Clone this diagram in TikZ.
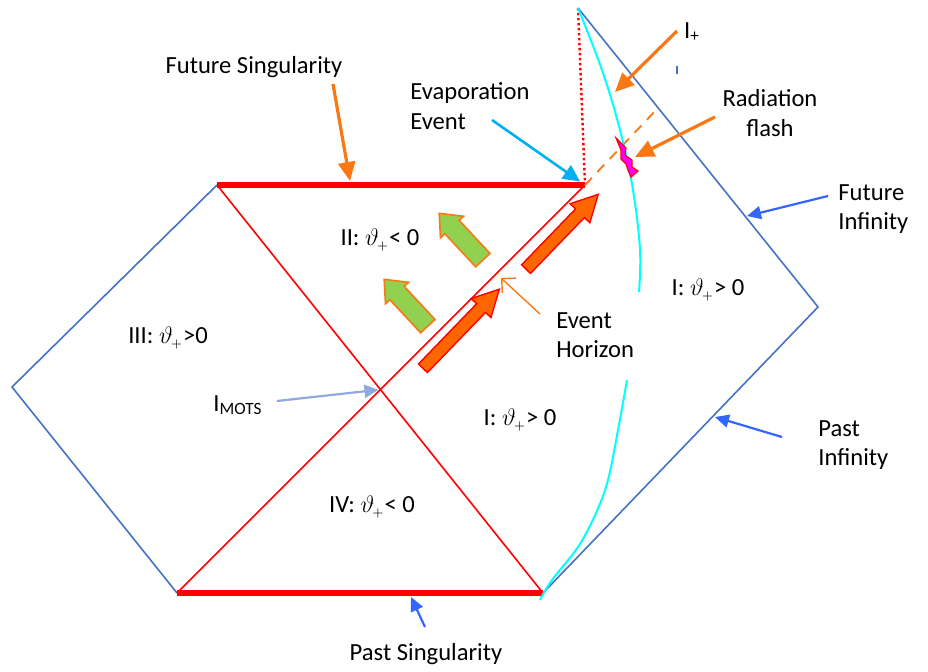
\documentclass[tikz,border=0pt]{standalone}
\usepackage{fontspec}
\setmainfont{Carlito}
\usetikzlibrary{arrows.meta, shapes.arrows, intersections}

\definecolor{diagblue}{RGB}{68,114,196}
\definecolor{labelblue}{RGB}{51,102,255}
\definecolor{evapblue}{RGB}{0,176,240}
\definecolor{motsblue}{RGB}{143,170,220}
\definecolor{pointorange}{RGB}{250,120,20}
\definecolor{flowgreen}{RGB}{146,208,80}
\definecolor{floworange}{RGB}{255,102,0}
\definecolor{brightcyan}{RGB}{0,255,255}
\definecolor{flashpink}{RGB}{255,0,255}

\newcommand{\thetaplus}{$\vartheta_{\mkern-2mu\scriptscriptstyle +}$}

\begin{document}
\begin{tikzpicture}[
		x=0.5pt, y=-0.5pt,
		font=\fontsize{12.3}{14.6}\selectfont,
		edge/.style={draw=diagblue, line width=0.8pt},
		horizon/.style={draw=red, line width=0.8pt},
		singularity/.style={draw=red, line width=2.6pt},
		note/.style={inner sep=0pt, align=left},
		zone/.style={inner sep=0pt},
		pointer/.style={-{Triangle[length=7pt, width=6.5pt]}, line width=1.1pt},
		bigpointer/.style={-{Triangle[length=9.5pt, width=8.5pt]}, line width=1.6pt, draw=pointorange},
		greenflow/.style={single arrow, draw=pointorange, fill=flowgreen, line width=0.8pt,
			minimum height=32pt, inner sep=4.5pt, single arrow head extend=3pt, single arrow tip angle=80},
		redflow/.style={single arrow, draw=red, fill=floworange, line width=0.7pt,
			inner sep=2.75pt, single arrow head extend=3.75pt, single arrow tip angle=55}
		]
		\useasboundingbox (0,0) rectangle (928,671);
		
		% Corners of the diagram
		\coordinate (fs-l) at (217,185);
		\coordinate (fs-r) at (585,185);
		\coordinate (ps-l) at (177,593);
		\coordinate (ps-r) at (543,593);
		\coordinate (left) at (12,387);
		\coordinate (right) at (818,307);
		\coordinate (top) at (578,8);
		\coordinate (flash-end) at (658,108);
		
		% Infinities
		\draw[edge] (fs-l) -- (left) -- (ps-l);
		\draw[edge] (top) -- (right) -- (ps-r);
		\draw[diagblue, line width=0.8pt] (677,66) -- (677,74);
		
		% Horizons
		\draw[horizon, name path=ha] (fs-l) -- (ps-r);
		\draw[horizon, name path=hb] (ps-l) -- (fs-r);
		\path[name intersections={of=ha and hb}] (intersection-1) coordinate (mots);
		
		% Singularities
		\draw[singularity] (fs-l) -- (fs-r);
		\draw[singularity] (ps-l) -- (ps-r);
		\draw[red, line width=1.2pt, dash pattern=on 1.2pt off 1.3pt] (top) -- (fs-r);
		\draw[pointorange, line width=0.9pt, dash pattern=on 5pt off 4pt] (fs-r) -- (flash-end);
		
		% Cyan curve
		\draw[brightcyan, line width=1pt] plot[smooth, tension=0.6] coordinates
			{(578,8) (602,70) (620,130) (633,190) (640,250) (639,292)};
		\draw[brightcyan, line width=1pt] plot[smooth, tension=0.6] coordinates
			{(627,380) (618,430) (608,480) (596,513) (578,547) (552,580) (540,600)};
		
		% Radiation flash
		\draw[red, fill=flashpink, line width=0.6pt] (616,138) -- (626,148) -- (625,155) -- (632,160)
			-- (632,167) -- (638,171) -- (631,177) -- (628,170) -- (626,164) -- (621,159)
			-- (621,150) -- cycle;
		
		% Block arrows
		\node[redflow, minimum height=55pt, rotate=46] (flow-a) at (457,333) {};
		\node[redflow, minimum height=52pt, rotate=46] (flow-b) at (558,236) {};
		\node[greenflow, rotate=133] (out-a) at (410,307) {};
		\node[greenflow, rotate=133] (out-b) at (465,241) {};
		
		% Regions
		\node[zone] (region-ii) at (380,240) {II: \thetaplus< 0};
		\node[zone] (region-iii) at (168,338) {III: \thetaplus>0};
		\node[zone] (region-i) at (520,420) {I: \thetaplus> 0};
		\node[zone] (region-ir) at (708,290) {I: \thetaplus> 0};
		\node[zone] (region-iv) at (372,507) {IV: \thetaplus< 0};
		
		% Labels
		\node[note] (fsing) at (254,67) {Future Singularity};
		\node[note, anchor=west] (evap) at (410,106) {Evaporation\\Event};
		\node[note] (iplus) at (692,32) {I\textsubscript{+}};
		\node[note, align=center] (flash) at (770,113) {Radiation\\flash};
		\node[note, anchor=west] (finf) at (838,209) {Future\\Infinity};
		\node[note, anchor=west] (pinf) at (818,445) {Past\\Infinity};
		\node[note, anchor=west] (ehor) at (556,335) {Event\\Horizon};
		\node[note] (psing) at (426,654) {Past Singularity};
		\node[note] (motslabel) at (238,405) {I\textsubscript{MOTS}};
		
		% Pointer tails and heads
		\coordinate (fsing-tail) at (333,84);
		\coordinate (fsing-head) at (350,181);
		\coordinate (evap-tail) at (492,120);
		\coordinate (iplus-tail) at (677,31);
		\coordinate (iplus-head) at (615,92);
		\coordinate (flash-tail) at (715,117);
		\coordinate (flash-head) at (635,157);
		\coordinate (finf-tail) at (828,196);
		\coordinate (finf-head) at (747,216);
		\coordinate (pinf-tail) at (782,437);
		\coordinate (pinf-head) at (715,417);
		\coordinate (psing-tail) at (425,627);
		\coordinate (psing-head) at (411,597);
		\coordinate (mots-tail) at (277,401);
		\coordinate (ehor-tail) at (540,314);
		\coordinate (ehor-head) at (501,278);
		
		% Pointers
		\draw[bigpointer] (fsing-tail) -- (fsing-head);
		\draw[pointer, evapblue, line width=1.3pt, -{Triangle[length=8.5pt, width=8pt]}, shorten >=3pt] (evap-tail) -- (fs-r);
		\draw[bigpointer] (iplus-tail) -- (iplus-head);
		\draw[bigpointer] (flash-tail) -- (flash-head);
		\draw[pointer, labelblue] (finf-tail) -- (finf-head);
		\draw[pointer, labelblue] (pinf-tail) -- (pinf-head);
		\draw[pointer, labelblue] (psing-tail) -- (psing-head);
		\draw[pointer, motsblue, shorten >=1pt] (mots-tail) -- (mots);
		\draw[pointorange, line width=0.7pt, -{Straight Barb[length=5pt, width=10pt]}] (ehor-tail) -- (ehor-head);
		
	\end{tikzpicture}
\end{document}
